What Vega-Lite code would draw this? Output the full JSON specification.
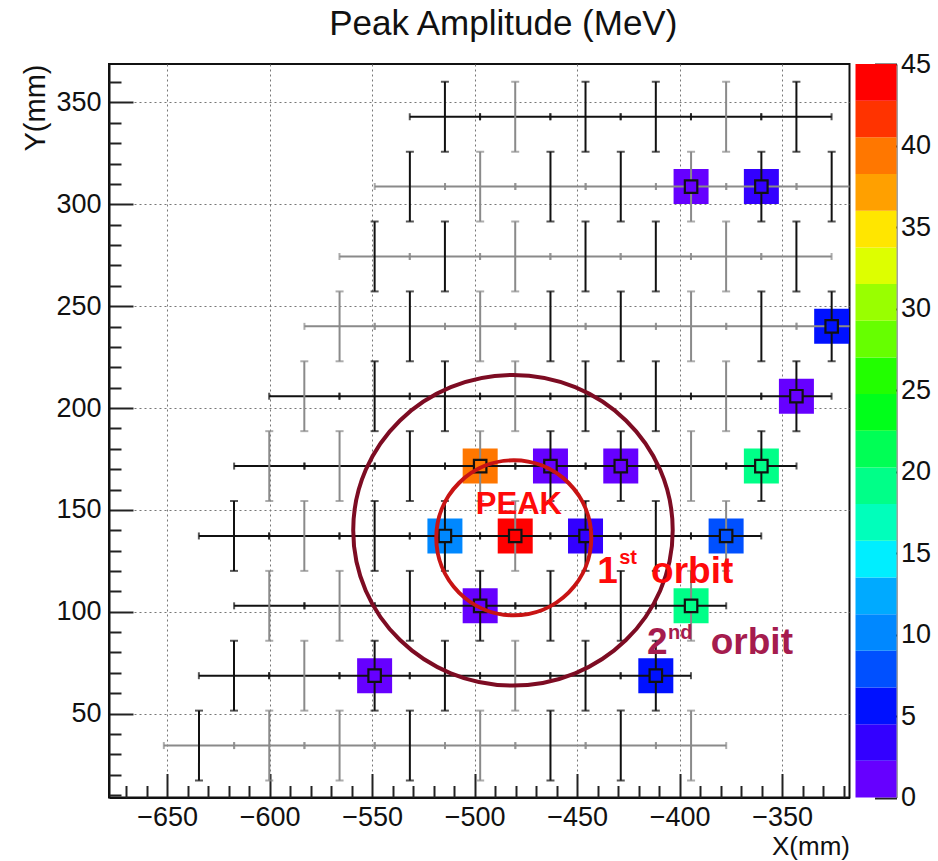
{
  "$schema": "https://vega.github.io/schema/vega-lite/v6.json",
  "background": "white",
  "padding": {"left": 20, "top": 6, "right": 0, "bottom": 0},
  "config": {"view": {"stroke": null}, "font": "Liberation Sans", "axis": {"labelFont": "Liberation Sans", "titleFont": "Liberation Sans"}},
  "spacing": 4.5,
  "datasets": {
    "pts": [
      {"x": -514.5, "y": 343.0, "vs": "k", "hs": "k", "e": 17.15, "v": null},
      {"x": -480.2, "y": 343.0, "vs": "g", "hs": "k", "e": 17.15, "v": null},
      {"x": -445.9, "y": 343.0, "vs": "k", "hs": "k", "e": 17.15, "v": null},
      {"x": -411.6, "y": 343.0, "vs": "k", "hs": "k", "e": 17.15, "v": null},
      {"x": -377.3, "y": 343.0, "vs": "g", "hs": "k", "e": 17.15, "v": null},
      {"x": -343.0, "y": 343.0, "vs": "k", "hs": "k", "e": 17.15, "v": null},

      {"x": -531.6, "y": 308.7, "vs": "k", "hs": "g", "e": 17.15, "v": null},
      {"x": -497.3, "y": 308.7, "vs": "g", "hs": "g", "e": 17.15, "v": null},
      {"x": -463.0, "y": 308.7, "vs": "k", "hs": "g", "e": 17.15, "v": null},
      {"x": -428.7, "y": 308.7, "vs": "k", "hs": "g", "e": 17.15, "v": null},
      {"x": -394.4, "y": 308.7, "vs": "g", "hs": "g", "e": 17.15, "v": 1.2},
      {"x": -360.1, "y": 308.7, "vs": "k", "hs": "g", "e": 17.15, "v": 3.4},
      {"x": -325.8, "y": 308.7, "vs": "k", "hs": "g", "e": 17.15, "v": null},

      {"x": -548.8, "y": 274.4, "vs": "k", "hs": "g", "e": 17.15, "v": null},
      {"x": -514.5, "y": 274.4, "vs": "k", "hs": "g", "e": 17.15, "v": null},
      {"x": -480.2, "y": 274.4, "vs": "g", "hs": "g", "e": 17.15, "v": null},
      {"x": -445.9, "y": 274.4, "vs": "k", "hs": "g", "e": 17.15, "v": null},
      {"x": -411.6, "y": 274.4, "vs": "k", "hs": "g", "e": 17.15, "v": null},
      {"x": -377.3, "y": 274.4, "vs": "g", "hs": "g", "e": 17.15, "v": null},
      {"x": -343.0, "y": 274.4, "vs": "k", "hs": "g", "e": 17.15, "v": null},

      {"x": -565.9, "y": 240.1, "vs": "g", "hs": "g", "e": 17.15, "v": null},
      {"x": -531.6, "y": 240.1, "vs": "k", "hs": "g", "e": 17.15, "v": null},
      {"x": -497.3, "y": 240.1, "vs": "g", "hs": "g", "e": 17.15, "v": null},
      {"x": -463.0, "y": 240.1, "vs": "k", "hs": "g", "e": 17.15, "v": null},
      {"x": -428.7, "y": 240.1, "vs": "k", "hs": "g", "e": 17.15, "v": null},
      {"x": -394.4, "y": 240.1, "vs": "g", "hs": "g", "e": 17.15, "v": null},
      {"x": -360.1, "y": 240.1, "vs": "k", "hs": "g", "e": 17.15, "v": null},
      {"x": -325.8, "y": 240.1, "vs": "k", "hs": "g", "e": 17.15, "v": 5.5},

      {"x": -583.1, "y": 205.8, "vs": "g", "hs": "k", "e": 17.15, "v": null},
      {"x": -548.8, "y": 205.8, "vs": "k", "hs": "k", "e": 17.15, "v": null},
      {"x": -514.5, "y": 205.8, "vs": "k", "hs": "k", "e": 17.15, "v": null},
      {"x": -480.2, "y": 205.8, "vs": "g", "hs": "k", "e": 17.15, "v": null},
      {"x": -445.9, "y": 205.8, "vs": "k", "hs": "k", "e": 17.15, "v": null},
      {"x": -411.6, "y": 205.8, "vs": "k", "hs": "k", "e": 17.15, "v": null},
      {"x": -377.3, "y": 205.8, "vs": "g", "hs": "k", "e": 17.15, "v": null},
      {"x": -343.0, "y": 205.8, "vs": "k", "hs": "k", "e": 17.15, "v": 1.2},

      {"x": -600.2, "y": 171.5, "vs": "g", "hs": "k", "e": 17.15, "v": null},
      {"x": -565.9, "y": 171.5, "vs": "g", "hs": "k", "e": 17.15, "v": null},
      {"x": -531.6, "y": 171.5, "vs": "k", "hs": "k", "e": 17.15, "v": null},
      {"x": -497.3, "y": 171.5, "vs": "g", "hs": "k", "e": 17.15, "v": 39.5},
      {"x": -463.0, "y": 171.5, "vs": "k", "hs": "k", "e": 17.15, "v": 1.2},
      {"x": -428.7, "y": 171.5, "vs": "k", "hs": "k", "e": 17.15, "v": 1.2},
      {"x": -394.4, "y": 171.5, "vs": "g", "hs": "k", "e": 17.15, "v": null},
      {"x": -360.1, "y": 171.5, "vs": "k", "hs": "k", "e": 17.15, "v": 19.0},

      {"x": -617.4, "y": 137.2, "vs": "k", "hs": "k", "e": 17.15, "v": null},
      {"x": -583.1, "y": 137.2, "vs": "g", "hs": "k", "e": 17.15, "v": null},
      {"x": -548.8, "y": 137.2, "vs": "k", "hs": "k", "e": 17.15, "v": null},
      {"x": -514.5, "y": 137.2, "vs": "k", "hs": "k", "e": 17.15, "v": 10.0},
      {"x": -480.2, "y": 137.2, "vs": "g", "hs": "k", "e": 17.15, "v": 44.0},
      {"x": -445.9, "y": 137.2, "vs": "k", "hs": "k", "e": 17.15, "v": 3.4},
      {"x": -411.6, "y": 137.2, "vs": "k", "hs": "k", "e": 17.15, "v": null},
      {"x": -377.3, "y": 137.2, "vs": "g", "hs": "k", "e": 17.15, "v": 7.5},

      {"x": -600.2, "y": 102.9, "vs": "g", "hs": "k", "e": 17.15, "v": null},
      {"x": -565.9, "y": 102.9, "vs": "g", "hs": "k", "e": 17.15, "v": null},
      {"x": -531.6, "y": 102.9, "vs": "k", "hs": "k", "e": 17.15, "v": null},
      {"x": -497.3, "y": 102.9, "vs": "k", "hs": "k", "e": 17.15, "v": 1.2},
      {"x": -463.0, "y": 102.9, "vs": "k", "hs": "k", "e": 17.15, "v": null},
      {"x": -428.7, "y": 102.9, "vs": "k", "hs": "k", "e": 17.15, "v": null},
      {"x": -394.4, "y": 102.9, "vs": "g", "hs": "k", "e": 17.15, "v": 19.0},

      {"x": -617.4, "y": 68.6, "vs": "k", "hs": "k", "e": 17.15, "v": null},
      {"x": -583.1, "y": 68.6, "vs": "g", "hs": "k", "e": 17.15, "v": null},
      {"x": -548.8, "y": 68.6, "vs": "k", "hs": "k", "e": 17.15, "v": 1.2},
      {"x": -514.5, "y": 68.6, "vs": "k", "hs": "k", "e": 17.15, "v": null},
      {"x": -480.2, "y": 68.6, "vs": "g", "hs": "k", "e": 17.15, "v": null},
      {"x": -445.9, "y": 68.6, "vs": "k", "hs": "k", "e": 17.15, "v": null},
      {"x": -411.6, "y": 68.6, "vs": "k", "hs": "k", "e": 17.15, "v": 5.5},

      {"x": -634.5, "y": 34.3, "vs": "k", "hs": "g", "e": 17.15, "v": null},
      {"x": -600.2, "y": 34.3, "vs": "g", "hs": "g", "e": 17.15, "v": null},
      {"x": -565.9, "y": 34.3, "vs": "g", "hs": "g", "e": 17.15, "v": null},
      {"x": -531.6, "y": 34.3, "vs": "k", "hs": "g", "e": 17.15, "v": null},
      {"x": -497.3, "y": 34.3, "vs": "g", "hs": "g", "e": 17.15, "v": null},
      {"x": -463.0, "y": 34.3, "vs": "k", "hs": "g", "e": 17.15, "v": null},
      {"x": -428.7, "y": 34.3, "vs": "k", "hs": "g", "e": 17.15, "v": null},
      {"x": -394.4, "y": 34.3, "vs": "g", "hs": "g", "e": 17.15, "v": null}
    ],
    "orbits": [
      {"orbit": "1st", "cx": -480.9, "cy": 136.3},
      {"orbit": "2nd", "cx": -481.3, "cy": 140.0}
    ],
    "notes": [
      {"text": "PEAK", "x": -499.4, "y": 148.0, "grp": "red", "kind": "peak"},
      {"text": "1", "x": -440.2, "y": 114.3, "grp": "red", "kind": "big"},
      {"text": "st", "x": -429.5, "y": 123.6, "grp": "red", "kind": "sup"},
      {"text": "orbit", "x": -413.9, "y": 114.3, "grp": "red", "kind": "big"},
      {"text": "2", "x": -415.9, "y": 79.3, "grp": "maroon", "kind": "big"},
      {"text": "nd", "x": -405.6, "y": 86.8, "grp": "maroon", "kind": "sup"},
      {"text": "orbit", "x": -384.8, "y": 79.3, "grp": "maroon", "kind": "big"}
    ],
    "bands": [
      {"lo": 0, "hi": 2.25, "mid": 1.125},
      {"lo": 2.25, "hi": 4.5, "mid": 3.375},
      {"lo": 4.5, "hi": 6.75, "mid": 5.625},
      {"lo": 6.75, "hi": 9, "mid": 7.875},
      {"lo": 9, "hi": 11.25, "mid": 10.125},
      {"lo": 11.25, "hi": 13.5, "mid": 12.375},
      {"lo": 13.5, "hi": 15.75, "mid": 14.625},
      {"lo": 15.75, "hi": 18, "mid": 16.875},
      {"lo": 18, "hi": 20.25, "mid": 19.125},
      {"lo": 20.25, "hi": 22.5, "mid": 21.375},
      {"lo": 22.5, "hi": 24.75, "mid": 23.625},
      {"lo": 24.75, "hi": 27, "mid": 25.875},
      {"lo": 27, "hi": 29.25, "mid": 28.125},
      {"lo": 29.25, "hi": 31.5, "mid": 30.375},
      {"lo": 31.5, "hi": 33.75, "mid": 32.625},
      {"lo": 33.75, "hi": 36, "mid": 34.875},
      {"lo": 36, "hi": 38.25, "mid": 37.125},
      {"lo": 38.25, "hi": 40.5, "mid": 39.375},
      {"lo": 40.5, "hi": 42.75, "mid": 41.625},
      {"lo": 42.75, "hi": 45, "mid": 43.875}
    ]
  },
  "hconcat": [
    {
      "width": 740.5,
      "height": 733.5,
      "view": {"stroke": "#111111", "strokeWidth": 2},
      "title": {"text": "Peak Amplitude (MeV)", "fontSize": 35, "fontWeight": "normal", "font": "Liberation Sans", "color": "#111111", "offset": 22, "dx": 24, "anchor": "middle"},
      "resolve": {"axis": {"x": "independent", "y": "independent"}},
      "layer": [
        {
          "data": {"name": "pts"},
          "transform": [{"filter": "datum.v != null"}],
          "mark": {"type": "point", "shape": "square", "filled": true, "size": 1225, "opacity": 1, "strokeWidth": 0, "clip": true},
          "encoding": {
            "x": {"field": "x", "type": "quantitative", "scale": {"domain": [-678.4, -317.1], "nice": false, "zero": false},
              "axis": {"values": [-650, -600, -550, -500, -450, -400, -350], "format": "d", "orient": "bottom", "tickSize": -24, "tickWidth": 2, "tickColor": "#222222", "grid": true, "gridDash": [2, 3], "gridColor": "#777777", "gridWidth": 1, "labelFontSize": 27, "labelColor": "#111111", "labelPadding": 31, "labelFlush": false, "labelOverlap": false, "domain": true, "domainColor": "#111111", "domainWidth": 2, "title": "X(mm)", "titleAnchor": "end", "titleFontSize": 26, "titleFontWeight": "normal", "titleColor": "#111111", "titlePadding": 3}},
            "y": {"field": "y", "type": "quantitative", "scale": {"domain": [8.8, 368.9], "nice": false, "zero": false},
              "axis": {"values": [50, 100, 150, 200, 250, 300, 350], "format": "d", "orient": "left", "tickSize": -24, "tickWidth": 2, "tickColor": "#222222", "grid": true, "gridDash": [2, 3], "gridColor": "#777777", "gridWidth": 1, "labelFontSize": 27, "labelColor": "#111111", "labelPadding": 32, "labelFlush": false, "labelOverlap": false, "domain": true, "domainColor": "#111111", "domainWidth": 2, "title": "Y(mm)", "titleAnchor": "end", "titleFontSize": 29, "titleFontWeight": "normal", "titleColor": "#111111", "titlePadding": 5}},
            "fill": {"field": "v", "type": "quantitative", "legend": null,
              "scale": {"type": "quantize", "domain": [0, 45], "nice": false, "zero": false, "range": ["#6600ff", "#3300ff", "#0011ff", "#0050ff", "#0088ff", "#00aaff", "#00eeff", "#00ffbb", "#00ff88", "#00ff55", "#00ff1a", "#22ff00", "#66ff00", "#99ff00", "#ddff00", "#ffe600", "#ffa000", "#ff7700", "#ff3300", "#ff0000"]}}
          }
        },
        {
          "data": {"name": "pts"},
          "mark": {"type": "errorbar", "ticks": {"size": 7}, "thickness": 2, "clip": true},
          "encoding": {
            "x": {"field": "x", "type": "quantitative", "scale": {"domain": [-678.4, -317.1], "nice": false, "zero": false}, "axis": null},
            "xError": {"field": "e"},
            "y": {"field": "y", "type": "quantitative", "scale": {"domain": [8.8, 368.9], "nice": false, "zero": false}, "axis": null},
            "color": {"field": "hs", "type": "nominal", "legend": null, "scale": {"domain": ["k", "g"], "range": ["#111111", "#8a8a8a"]}}
          }
        },
        {
          "data": {"name": "pts"},
          "mark": {"type": "errorbar", "ticks": {"size": 8}, "thickness": 2, "clip": true},
          "encoding": {
            "x": {"field": "x", "type": "quantitative", "scale": {"domain": [-678.4, -317.1], "nice": false, "zero": false}, "axis": null},
            "y": {"field": "y", "type": "quantitative", "scale": {"domain": [8.8, 368.9], "nice": false, "zero": false}, "axis": null},
            "yError": {"field": "e"},
            "color": {"field": "vs", "type": "nominal", "legend": null, "scale": {"domain": ["k", "g"], "range": ["#111111", "#8a8a8a"]}}
          }
        },
        {
          "data": {"name": "pts"},
          "mark": {"type": "point", "shape": "square", "filled": true, "size": 155, "strokeWidth": 2.2, "opacity": 1, "clip": true},
          "encoding": {
            "x": {"field": "x", "type": "quantitative", "scale": {"domain": [-678.4, -317.1], "nice": false, "zero": false},
              "axis": {"values": [-670, -660, -640, -630, -620, -610, -590, -580, -570, -560, -540, -530, -520, -510, -490, -480, -470, -460, -440, -430, -420, -410, -390, -380, -370, -360, -340, -330, -320], "orient": "bottom", "tickSize": -12, "tickWidth": 2, "tickColor": "#222222", "labels": false, "domain": false, "grid": false, "title": null}},
            "y": {"field": "y", "type": "quantitative", "scale": {"domain": [8.8, 368.9], "nice": false, "zero": false},
              "axis": {"values": [10, 20, 30, 40, 60, 70, 80, 90, 110, 120, 130, 140, 160, 170, 180, 190, 210, 220, 230, 240, 260, 270, 280, 290, 310, 320, 330, 340, 360], "orient": "left", "tickSize": -12, "tickWidth": 2, "tickColor": "#222222", "labels": false, "domain": false, "grid": false, "title": null}},
            "fill": {"condition": {"test": "datum.v == null", "value": "white"}, "field": "v", "type": "quantitative", "legend": null,
              "scale": {"type": "quantize", "domain": [0, 45], "nice": false, "zero": false, "range": ["#6600ff", "#3300ff", "#0011ff", "#0050ff", "#0088ff", "#00aaff", "#00eeff", "#00ffbb", "#00ff88", "#00ff55", "#00ff1a", "#22ff00", "#66ff00", "#99ff00", "#ddff00", "#ffe600", "#ffa000", "#ff7700", "#ff3300", "#ff0000"]}},
            "stroke": {"condition": {"test": "datum.v != null", "value": "#111111"}, "field": "vs", "type": "nominal", "legend": null, "scale": {"domain": ["k", "g"], "range": ["#111111", "#8a8a8a"]}}
          }
        },
        {
          "data": {"name": "orbits"},
          "transform": [{"filter": "datum.orbit == '2nd'"}],
          "mark": {"type": "point", "shape": "M-1,0A1,0.972,0,1,1,1,0A1,0.972,0,1,1,-1,0Z", "filled": false, "size": 102080, "stroke": "#7d0c23", "strokeWidth": 4, "opacity": 1},
          "encoding": {
            "x": {"field": "cx", "type": "quantitative", "scale": {"domain": [-678.4, -317.1], "nice": false, "zero": false}, "axis": null},
            "y": {"field": "cy", "type": "quantitative", "scale": {"domain": [8.8, 368.9], "nice": false, "zero": false}, "axis": null}
          }
        },
        {
          "data": {"name": "orbits"},
          "transform": [{"filter": "datum.orbit == '1st'"}],
          "mark": {"type": "point", "shape": "circle", "filled": false, "size": 24025, "stroke": "#c81414", "strokeWidth": 4, "opacity": 1},
          "encoding": {
            "x": {"field": "cx", "type": "quantitative", "scale": {"domain": [-678.4, -317.1], "nice": false, "zero": false}, "axis": null},
            "y": {"field": "cy", "type": "quantitative", "scale": {"domain": [8.8, 368.9], "nice": false, "zero": false}, "axis": null}
          }
        },
        {
          "data": {"name": "notes"},
          "transform": [{"filter": "datum.kind == 'peak'"}],
          "mark": {"type": "text", "align": "left", "baseline": "alphabetic", "fontWeight": "bold", "font": "Liberation Sans", "fontSize": 31, "color": "#ff0a0a"},
          "encoding": {
            "x": {"field": "x", "type": "quantitative", "scale": {"domain": [-678.4, -317.1], "nice": false, "zero": false}, "axis": null},
            "y": {"field": "y", "type": "quantitative", "scale": {"domain": [8.8, 368.9], "nice": false, "zero": false}, "axis": null},
            "text": {"field": "text"}
          }
        },
        {
          "data": {"name": "notes"},
          "transform": [{"filter": "datum.grp == 'red' && datum.kind == 'big'"}],
          "mark": {"type": "text", "align": "left", "baseline": "alphabetic", "fontWeight": "bold", "font": "Liberation Sans", "fontSize": 37, "color": "#ff0a0a"},
          "encoding": {
            "x": {"field": "x", "type": "quantitative", "scale": {"domain": [-678.4, -317.1], "nice": false, "zero": false}, "axis": null},
            "y": {"field": "y", "type": "quantitative", "scale": {"domain": [8.8, 368.9], "nice": false, "zero": false}, "axis": null},
            "text": {"field": "text"}
          }
        },
        {
          "data": {"name": "notes"},
          "transform": [{"filter": "datum.grp == 'red' && datum.kind == 'sup'"}],
          "mark": {"type": "text", "align": "left", "baseline": "alphabetic", "fontWeight": "bold", "font": "Liberation Sans", "fontSize": 20, "color": "#ff0a0a"},
          "encoding": {
            "x": {"field": "x", "type": "quantitative", "scale": {"domain": [-678.4, -317.1], "nice": false, "zero": false}, "axis": null},
            "y": {"field": "y", "type": "quantitative", "scale": {"domain": [8.8, 368.9], "nice": false, "zero": false}, "axis": null},
            "text": {"field": "text"}
          }
        },
        {
          "data": {"name": "notes"},
          "transform": [{"filter": "datum.grp == 'maroon' && datum.kind == 'big'"}],
          "mark": {"type": "text", "align": "left", "baseline": "alphabetic", "fontWeight": "bold", "font": "Liberation Sans", "fontSize": 37, "color": "#a51c4e"},
          "encoding": {
            "x": {"field": "x", "type": "quantitative", "scale": {"domain": [-678.4, -317.1], "nice": false, "zero": false}, "axis": null},
            "y": {"field": "y", "type": "quantitative", "scale": {"domain": [8.8, 368.9], "nice": false, "zero": false}, "axis": null},
            "text": {"field": "text"}
          }
        },
        {
          "data": {"name": "notes"},
          "transform": [{"filter": "datum.grp == 'maroon' && datum.kind == 'sup'"}],
          "mark": {"type": "text", "align": "left", "baseline": "alphabetic", "fontWeight": "bold", "font": "Liberation Sans", "fontSize": 20, "color": "#a51c4e"},
          "encoding": {
            "x": {"field": "x", "type": "quantitative", "scale": {"domain": [-678.4, -317.1], "nice": false, "zero": false}, "axis": null},
            "y": {"field": "y", "type": "quantitative", "scale": {"domain": [8.8, 368.9], "nice": false, "zero": false}, "axis": null},
            "text": {"field": "text"}
          }
        }
      ]
    },
    {
      "width": 41,
      "height": 733.5,
      "data": {"name": "bands"},
      "mark": {"type": "rect"},
      "encoding": {
        "y": {"field": "lo", "type": "quantitative", "scale": {"domain": [0, 45], "nice": false, "zero": false},
          "axis": {"orient": "right", "values": [0, 5, 10, 15, 20, 25, 30, 35, 40, 45], "format": "d", "tickSize": -22, "tickWidth": 2, "tickColor": "#222222", "labelFontSize": 27, "labelColor": "#111111", "labelPadding": 26, "labelFlush": false, "labelOverlap": false, "domain": true, "domainColor": "#444444", "domainWidth": 1, "grid": false, "title": null}},
        "y2": {"field": "hi"},
        "fill": {"field": "mid", "type": "quantitative", "legend": null,
          "scale": {"type": "quantize", "domain": [0, 45], "nice": false, "zero": false, "range": ["#6600ff", "#3300ff", "#0011ff", "#0050ff", "#0088ff", "#00aaff", "#00eeff", "#00ffbb", "#00ff88", "#00ff55", "#00ff1a", "#22ff00", "#66ff00", "#99ff00", "#ddff00", "#ffe600", "#ffa000", "#ff7700", "#ff3300", "#ff0000"]}}
      }
    }
  ]
}
